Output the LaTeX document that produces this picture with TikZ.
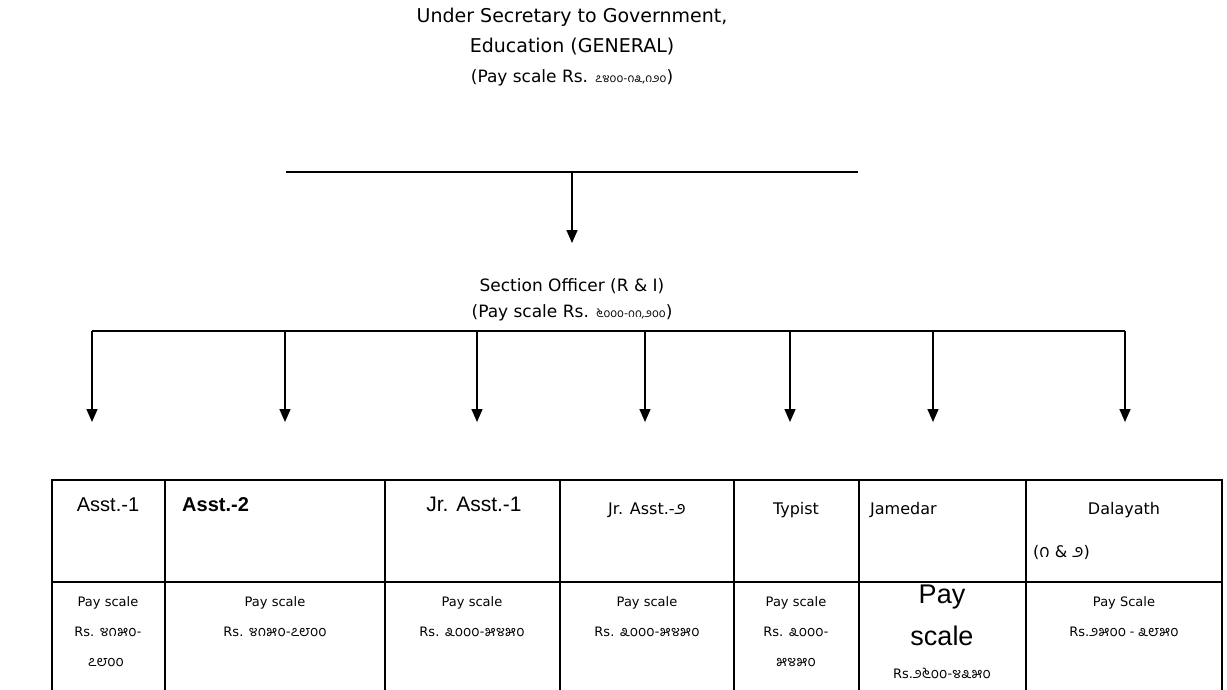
\documentclass[tikz,border=0pt]{standalone}
\usepackage{fontspec}
\setmainfont{DejaVu Sans}
\newfontfamily\arialfont{Liberation Sans}
\newfontfamily\knfont[Script=Kannada]{Hind Mysuru}
\usetikzlibrary{arrows.meta}
\newcommand{\kn}[2][14.5]{{\knfont\fontsize{#1}{#1}\selectfont #2}}

\begin{document}
\begin{tikzpicture}[
x=1pt, y=-1pt,
>={Triangle[width=11pt,length=13pt]},
arrow/.style={draw,->,line width=1.5pt},
bar/.style={draw,line width=1.5pt},
grid/.style={draw,line width=2pt},
title/.style={inner sep=0pt,text height=12pt,text depth=4pt,font=\fontsize{17}{20}\selectfont},
head/.style={inner sep=0pt,text height=12pt,text depth=4pt,font=\fontsize{16}{19}\selectfont},
ahead/.style={inner sep=0pt,text height=14pt,text depth=4pt,font=\arialfont\fontsize{20}{23}\selectfont},
cell/.style={inner sep=0pt,text height=10pt,text depth=3pt,font=\fontsize{13}{15}\selectfont}
]
\useasboundingbox (0,0) rectangle (1227,689);
\clip (0,0) rectangle (1227,689);

% upper part
\node[title,font=\fontsize{19}{22}\selectfont] (us) at (572,18) {Under Secretary to Government,};
\node[title,font=\fontsize{19}{22}\selectfont] (edu) at (572,48) {Education (GENERAL)};
\node[title] (uspay) at (572,78) {(Pay scale Rs. \kn[12]{೭೪೦೦-೧೩,೧೨೦})};

\coordinate (busL) at (286,172);
\coordinate (busM) at (572,172);
\coordinate (busR) at (858,172);
\coordinate (soTip) at (572,243);
\path[bar] (busL) -- (busR);
\path[arrow] (busM) -- (soTip);

\node[title] (so) at (572,287) {Section Officer (R \& I)};
\node[title] (sopay) at (572,313) {(Pay scale Rs. \kn[12]{೬೦೦೦-೧೧,೨೦೦})};

% branches
\coordinate (brA) at (92,331);
\coordinate (brB) at (285,331);
\coordinate (brC) at (477,331);
\coordinate (brD) at (645,331);
\coordinate (brE) at (790,331);
\coordinate (brF) at (933,331);
\coordinate (brG) at (1125,331);
\coordinate (tipA) at (92,422);
\coordinate (tipB) at (285,422);
\coordinate (tipC) at (477,422);
\coordinate (tipD) at (645,422);
\coordinate (tipE) at (790,422);
\coordinate (tipF) at (933,422);
\coordinate (tipG) at (1125,422);
\path[bar] (brA) -- (brG);
\path[arrow] (brA) -- (tipA);
\path[arrow] (brB) -- (tipB);
\path[arrow] (brC) -- (tipC);
\path[arrow] (brD) -- (tipD);
\path[arrow] (brE) -- (tipE);
\path[arrow] (brF) -- (tipF);
\path[arrow] (brG) -- (tipG);

% table
\path[grid] (52,480) -- (1222,480);
\path[grid] (52,582) -- (1222,582);
\foreach \x in {52,165,385,560,734,859,1026,1222}
  \path[grid] (\x,479) -- (\x,700);

% header row
\node[ahead] (asst1) at (108,506) {Asst.-1};
\node[ahead,anchor=west,font=\arialfont\bfseries\fontsize{20}{23}\selectfont] (asst2) at (182,506) {Asst.-2};
\node[ahead,font=\arialfont\fontsize{21}{24}\selectfont] (jr1) at (474,506) {Jr. Asst.-1};
\node[head] (jr2) at (647,510) {Jr. Asst.-\kn[18]{೨}};
\node[head] (typist) at (796,510) {Typist};
\node[head,anchor=west] (jamedar) at (870,510) {Jamedar};
\node[head] (dalayath) at (1124,510) {Dalayath};
\node[head,anchor=west] (dalno) at (1033,553) {(\kn[18]{೧} \& \kn[18]{೨})};

% pay row
\node[cell] (pay1) at (108,603) {Pay scale};
\node[cell] (rs1) at (108,633) {Rs. \kn{೪೧೫೦-}};
\node[cell] (rs1b) at (106,663) {\kn{೭೮೦೦}};
\node[cell] (pay2) at (275,603) {Pay scale};
\node[cell] (rs2) at (275,633) {Rs. \kn{೪೧೫೦-೭೮೦೦}};
\node[cell] (pay3) at (472,603) {Pay scale};
\node[cell] (rs3) at (472,633) {Rs. \kn{೩೦೦೦-೫೪೫೦}};
\node[cell] (pay4) at (647,603) {Pay scale};
\node[cell] (rs4) at (647,633) {Rs. \kn{೩೦೦೦-೫೪೫೦}};
\node[cell] (pay5) at (796,603) {Pay scale};
\node[cell] (rs5) at (796,633) {Rs. \kn{೩೦೦೦-}};
\node[cell] (rs5b) at (796,663) {\kn{೫೪೫೦}};
\node[ahead,font=\arialfont\fontsize{27}{30}\selectfont] (pay6) at (942,598) {Pay};
\node[ahead,font=\arialfont\fontsize{27}{30}\selectfont] (pay6b) at (942,640) {scale};
\node[cell] (rs6) at (942,675) {Rs.\kn{೨೬೦೦-೪೩೫೦}};
\node[cell] (pay7) at (1124,603) {Pay Scale};
\node[cell] (rs7) at (1124,633) {Rs.\kn{೨೫೦೦ - ೩೮೫೦}};

\end{tikzpicture}
\end{document}
